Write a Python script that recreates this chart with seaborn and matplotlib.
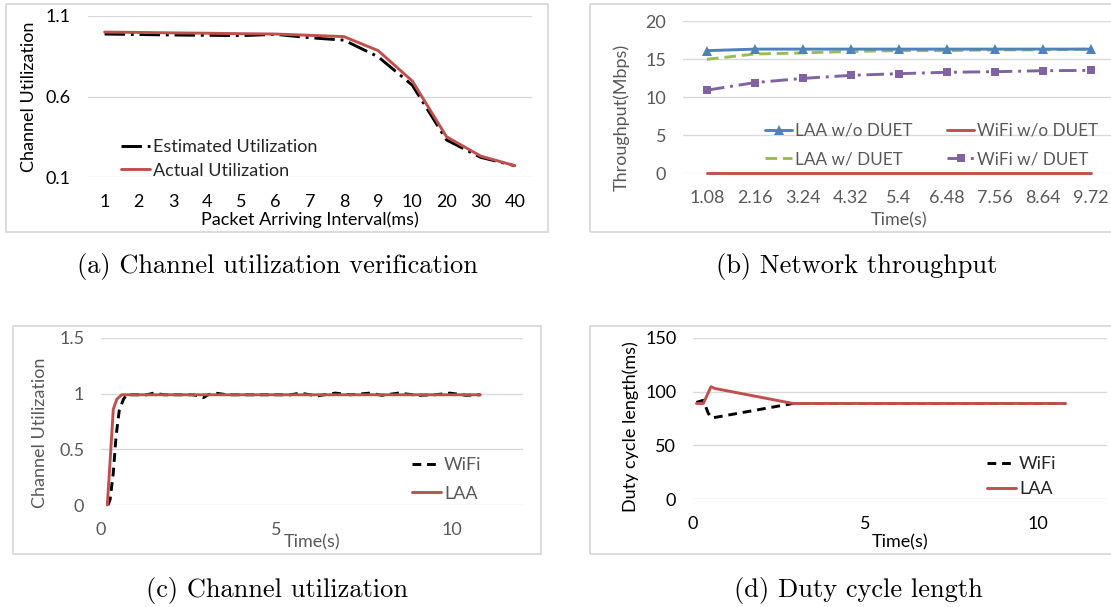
import numpy as np
import pandas as pd
import seaborn as sns
import matplotlib.pyplot as plt
from matplotlib.patches import Rectangle

# (a) channel utilization verification
interval_ms = ['1', '2', '3', '4', '5', '6', '7', '8', '9', '10', '20', '30', '40']
estimated_util = [0.988, 0.985, 0.982, 0.98, 0.978, 0.986, 0.965, 0.95, 0.847, 0.67, 0.33, 0.222, 0.17]
actual_util = [1.0, 0.998, 0.995, 0.993, 0.99, 0.988, 0.98, 0.972, 0.885, 0.696, 0.35, 0.23, 0.17]

# (b) network throughput
time_cat = ['1.08', '2.16', '3.24', '4.32', '5.4', '6.48', '7.56', '8.64', '9.72']
laa_wo_duet = [16.1, 16.3, 16.3, 16.3, 16.3, 16.3, 16.3, 16.3, 16.3]
wifi_wo_duet = [0, 0, 0, 0, 0, 0, 0, 0, 0]
laa_w_duet = [14.96, 15.66, 15.8, 16.0, 16.1, 16.1, 16.2, 16.2, 16.3]
wifi_w_duet = [10.9, 11.9, 12.45, 12.85, 13.07, 13.25, 13.33, 13.46, 13.5]

# (c) channel utilization over time
util_t_wifi = [0.2, 0.26, 0.35, 0.43, 0.52, 0.64, 0.73, 1.0, 1.3, 1.5, 1.8, 2.2, 2.6, 2.8, 2.92,
               3.05, 3.25, 3.6, 4.0, 4.5, 5.0, 5.4, 5.67, 6.15, 6.67, 7.1, 7.66, 8.0, 8.47,
               9.04, 9.5, 9.94, 10.4, 10.8]
util_wifi = [0.0, 0.05, 0.29, 0.62, 0.85, 0.95, 0.99, 0.99, 0.99, 1.005, 0.99, 0.99, 0.99, 0.98, 0.965,
             0.99, 1.005, 0.99, 0.99, 0.99, 0.99, 0.99, 1.005, 0.98, 1.005, 0.99, 1.005, 0.985, 1.005,
             0.985, 0.99, 1.005, 0.985, 0.99]
util_t_laa = [0.18, 0.28, 0.35, 0.45, 0.59, 10.8]
util_laa = [0.0, 0.5, 0.86, 0.95, 0.99, 0.99]

# (d) duty cycle length
duty_t_wifi = [0.1, 0.3, 0.44, 0.55, 2.9, 10.8]
duty_wifi = [90, 92, 80, 75.5, 89, 89]
duty_t_laa = [0.1, 0.3, 0.52, 0.63, 2.9, 10.8]
duty_laa = [89, 89, 104.6, 103, 89, 89]

RED = '#C0504D'
BLUE = '#4F81BD'
GREEN = '#9BBB59'
PURPLE = '#8064A2'
GRID = '#D9D9D9'
GRAY = '#595959'
FS = 13

sns.set_style("white")
plt.rcParams['font.family'] = ['Lato', 'DejaVu Sans']

W, H = 1111, 607
fig = plt.figure(figsize=(W / 100, H / 100), dpi=100)


def fx(px):
    return px / W


def fy(py):
    return 1 - py / H


def frame(x0, y0, x1, y1):
    fig.patches.append(Rectangle((fx(x0), fy(y1)), (x1 - x0) / W, (y1 - y0) / H,
                                 transform=fig.transFigure, fill=False, ec=GRID, lw=1.3))


def panel(x0, y0, x1, y1, color):
    ax = fig.add_axes([fx(x0), fy(y1), (x1 - x0) / W, (y1 - y0) / H])
    sns.despine(ax=ax, left=True, bottom=True)
    ax.grid(axis='y', color=GRID, lw=1.0)
    ax.grid(axis='x', visible=False)
    ax.tick_params(length=0, labelsize=FS, colors=color, pad=12)
    ax.set_axisbelow(True)
    return ax


def labels(ax, xl, yl, xpos, ypos, color):
    ax.set_xlabel(xl, fontsize=FS, color=color)
    ax.set_ylabel(yl, fontsize=FS, color=color)
    ax.xaxis.set_label_coords(*xpos)
    ax.yaxis.set_label_coords(*ypos)
    ax.xaxis.label.set_va('center')
    ax.yaxis.label.set_va('center')


leg = dict(bbox_transform=fig.transFigure, loc='upper left', frameon=False,
           handlelength=1.6, handletextpad=0.18, borderpad=0, borderaxespad=0)

# ---- (a)
frame(6, 4, 548, 232)
ax = panel(87.5, 16, 532, 177, 'black')
xa = pd.Categorical(interval_ms, categories=interval_ms)
sns.lineplot(x=xa, y=estimated_util, ax=ax, color='black', lw=2.1,
             linestyle=(0, (7, 2, 1, 2)), label='Estimated Utilization')
sns.lineplot(x=xa, y=actual_util, ax=ax, color=RED, lw=2.1, label='Actual Utilization')
ax.set_xlim(-0.5, 12.5)
ax.set_ylim(0.1, 1.1)
ax.set_yticks([0.1, 0.6, 1.1])
labels(ax, 'Packet Arriving Interval(ms)', 'Channel Utilization', (0.5, -0.267), (-0.132, 0.497), 'black')
ax.legend(bbox_to_anchor=(fx(121), fy(139)), labelspacing=0.42, fontsize=FS, **leg)

# ---- (b)
frame(590, 4, 1120, 232)
ax = panel(683, 21, 1115, 173, GRAY)
xb = pd.Categorical(time_cat, categories=time_cat)
sns.lineplot(x=xb, y=wifi_wo_duet, ax=ax, color=RED, lw=2.1, label='WiFi w/o DUET', clip_on=False)
sns.lineplot(x=xb, y=laa_w_duet, ax=ax, color=GREEN, lw=2.1, linestyle=(0, (4, 2)),
             label='LAA w/ DUET')
sns.lineplot(x=xb, y=wifi_w_duet, ax=ax, color=PURPLE, lw=2.1, linestyle=(0, (6, 2, 1, 2)),
             marker='s', markersize=6, markeredgewidth=0, label='WiFi w/ DUET')
sns.lineplot(x=xb, y=laa_wo_duet, ax=ax, color=BLUE, lw=2.1, marker='^', markersize=7,
             markeredgewidth=0, label='LAA w/o DUET')
ax.set_xlim(-0.5, 8.5)
ax.set_ylim(0, 20)
ax.set_yticks([0, 5, 10, 15, 20])
labels(ax, 'Time(s)', 'Throughput(Mbps)', (0.5, -0.309), (-0.1435, 0.368), GRAY)
h, l = ax.get_legend_handles_labels()
order = [l.index(n) for n in ['LAA w/o DUET', 'LAA w/ DUET', 'WiFi w/o DUET', 'WiFi w/ DUET']]
ax.legend([h[i] for i in order], [l[i] for i in order], ncol=2,
          bbox_to_anchor=(fx(765), fy(123)), labelspacing=0.72, columnspacing=2.0,
          fontsize=12.3, labelcolor=GRAY, **leg)

# ---- (c)
frame(13, 326, 541, 554)
ax = panel(101, 338, 522.5, 505, GRAY)
sns.lineplot(x=util_t_wifi, y=util_wifi, ax=ax, color='black', lw=2.1, linestyle=(0, (3, 2)),
             label='WiFi', sort=False, clip_on=False)
sns.lineplot(x=util_t_laa, y=util_laa, ax=ax, color=RED, lw=2.1, label='LAA', sort=False, clip_on=False)
ax.set_xlim(0, 12)
ax.set_ylim(0, 1.5)
ax.set_xticks([0, 5, 10])
ax.set_yticks([0, 0.5, 1, 1.5])
ax.set_yticklabels(['0', '0.5', '1', '1.5'])
labels(ax, 'Time(s)', 'Channel Utilization', (0.5, -0.222), (-0.145, 0.431), GRAY)
ax.legend(bbox_to_anchor=(fx(412), fy(457)), labelspacing=0.7, fontsize=FS, labelcolor=GRAY, **leg)

# ---- (d)
frame(590, 326, 1120, 554)
ax = panel(693, 338, 1107, 499, 'black')
sns.lineplot(x=duty_t_wifi, y=duty_wifi, ax=ax, color='black', lw=2.1, linestyle=(0, (3, 2)),
             label='WiFi', sort=False)
sns.lineplot(x=duty_t_laa, y=duty_laa, ax=ax, color=RED, lw=2.1, label='LAA', sort=False)
ax.set_xlim(0, 12)
ax.set_ylim(0, 150)
ax.set_xticks([0, 5, 10])
ax.set_yticks([0, 50, 100, 150])
labels(ax, 'Time(s)', 'Duty cycle length(ms)', (0.5, -0.267), (-0.15, 0.447), 'black')
ax.legend(bbox_to_anchor=(fx(987), fy(456)), labelspacing=0.5, fontsize=FS, **leg)

# captions
cap = dict(family='cmr10', fontsize=19, ha='center', va='center', color='black')
fig.text(fx(277), fy(267), '(a) Channel utilization verification', **cap)
fig.text(fx(857), fy(267), '(b) Network throughput', **cap)
fig.text(fx(277), fy(590), '(c) Channel utilization', **cap)
fig.text(fx(858), fy(590), '(d) Duty cycle length', **cap)

fig.savefig('out.png', dpi=100, facecolor='white')
